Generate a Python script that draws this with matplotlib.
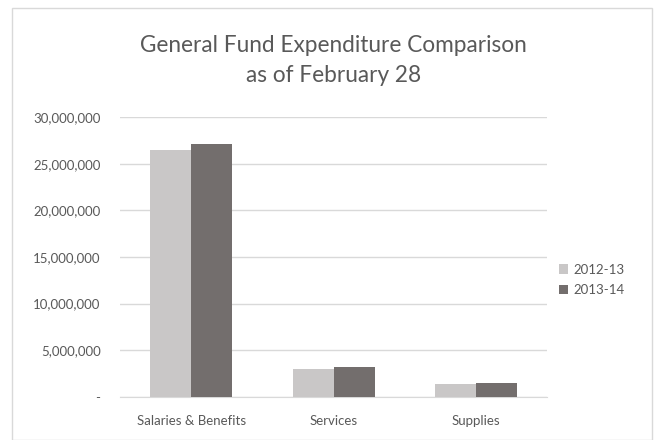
import numpy as np
import matplotlib
matplotlib.use("Agg")
import matplotlib.pyplot as plt
from matplotlib.ticker import FuncFormatter
from matplotlib.patches import Rectangle

categories = ["Salaries & Benefits", "Services", "Supplies"]
series_names = ["2012-13", "2013-14"]
values_2012 = [26500000, 3000000, 1360000]
values_2013 = [27150000, 3150000, 1500000]

plt.rcParams["font.family"] = ["Lato", "DejaVu Sans"]

fig = plt.figure(figsize=(6.56, 4.4), dpi=100)
ax = fig.add_axes([0.183, 0.098, 0.651, 0.636])

x = np.arange(len(categories))
w = 0.288
ax.bar(x - w / 2, values_2012, w, color="#c9c7c7", label=series_names[0], zorder=3)
ax.bar(x + w / 2, values_2013, w, color="#736e6d", label=series_names[1], zorder=3)

ax.set_xlim(-0.5, 2.5)
ax.set_ylim(0, 30000000)
ax.set_yticks(np.arange(0, 30000001, 5000000))
ax.yaxis.set_major_formatter(FuncFormatter(lambda v, p: "-" if v == 0 else f"{int(v):,}"))
ax.set_xticks(x)
ax.set_xticklabels(categories)
ax.grid(axis="y", color="#d9d9d9", linewidth=1, zorder=0)
for s in ["top", "right", "left"]:
    ax.spines[s].set_visible(False)
ax.spines["bottom"].set_color("#d9d9d9")
ax.tick_params(axis="both", length=0, colors="#595959", labelsize=9.5)
ax.tick_params(axis="y", pad=14)
ax.tick_params(axis="x", pad=13)

fig.text(0.508, 0.862, "General Fund Expenditure Comparison\nas of February 28",
         ha="center", va="center", fontsize=16.3, color="#595959", linespacing=1.55)

ax.legend(loc="center left", bbox_to_anchor=(1.0, 0.418), frameon=False,
          fontsize=9.5, labelcolor="#595959", handlelength=0.7, handleheight=0.7,
          handletextpad=0.4, labelspacing=0.65)

fig.patches.append(Rectangle((12 / 656, 0), 640 / 656, 1 - 8 / 440, transform=fig.transFigure,
                             fill=False, edgecolor="#d9d9d9", linewidth=1))

fig.savefig("out.png", dpi=100, facecolor="white")
